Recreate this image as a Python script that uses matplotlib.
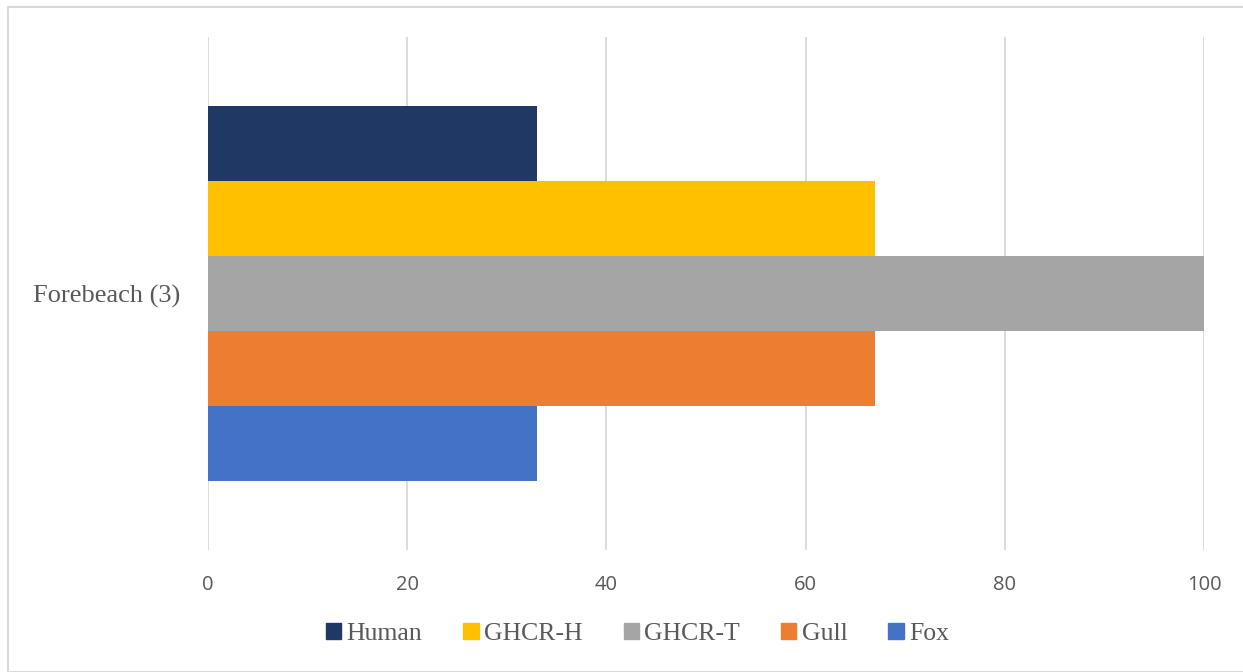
import matplotlib
matplotlib.use("Agg")
import matplotlib.pyplot as plt
from matplotlib.patches import Rectangle, Patch

category = "Forebeach (3)"
series = ["Fox", "Gull", "GHCR-T", "GHCR-H", "Human"]
values = [33, 67, 100, 67, 33]
colors = ["#4472c4", "#ed7d31", "#a5a5a5", "#ffc000", "#203864"]
xticks = [0, 20, 40, 60, 80, 100]

W, H = 1243, 672
fig = plt.figure(figsize=(W / 100, H / 100), dpi=100)

# outer border
fig.patches.append(Rectangle((8 / W, 0), 1.0, 1 - 7 / H, transform=fig.transFigure,
                             fill=False, edgecolor="#d9d9d9", linewidth=1.5))

left, right = 208, 1204
top, bottom = 37, 550
ax = fig.add_axes([left / W, 1 - bottom / H, (right - left) / W, (bottom - top) / H])

bar_h = 75 / (bottom - top)
n = len(series)
for i, (s, v, c) in enumerate(zip(series, values, colors)):
    y = -n * bar_h / 2 + bar_h * (i + 0.5)
    ax.barh(y, v, height=bar_h, color=c, zorder=3, label=s)

ax.set_xlim(0, 100)
ax.set_ylim(-0.5, 0.5)
ax.set_xticks(xticks)
ax.set_xticklabels([str(t) for t in xticks], fontfamily="Open Sans", fontsize=14.5, color="#595959")
ax.set_yticks([0])
ax.set_yticklabels([category], fontfamily="Liberation Serif", fontsize=19, color="#595959")
ax.tick_params(axis="both", length=0)
ax.tick_params(axis="x", pad=18)
ax.tick_params(axis="y", pad=20)
ax.xaxis.grid(True, color="#d9d9d9", linewidth=1.3, zorder=0)
for sp in ax.spines.values():
    sp.set_visible(False)

handles = [Patch(color=c, label=s) for s, c in zip(series, colors)][::-1]
fig.legend(handles=handles, loc="center", bbox_to_anchor=(0.5 + 16 / W, 1 - 634 / H), ncol=5,
           frameon=False, prop={"family": "Liberation Serif", "size": 18.5},
           labelcolor="#595959", handlelength=0.6, handleheight=0.6,
           handletextpad=0.2, columnspacing=1.6)

fig.savefig("out.png", dpi=100)
